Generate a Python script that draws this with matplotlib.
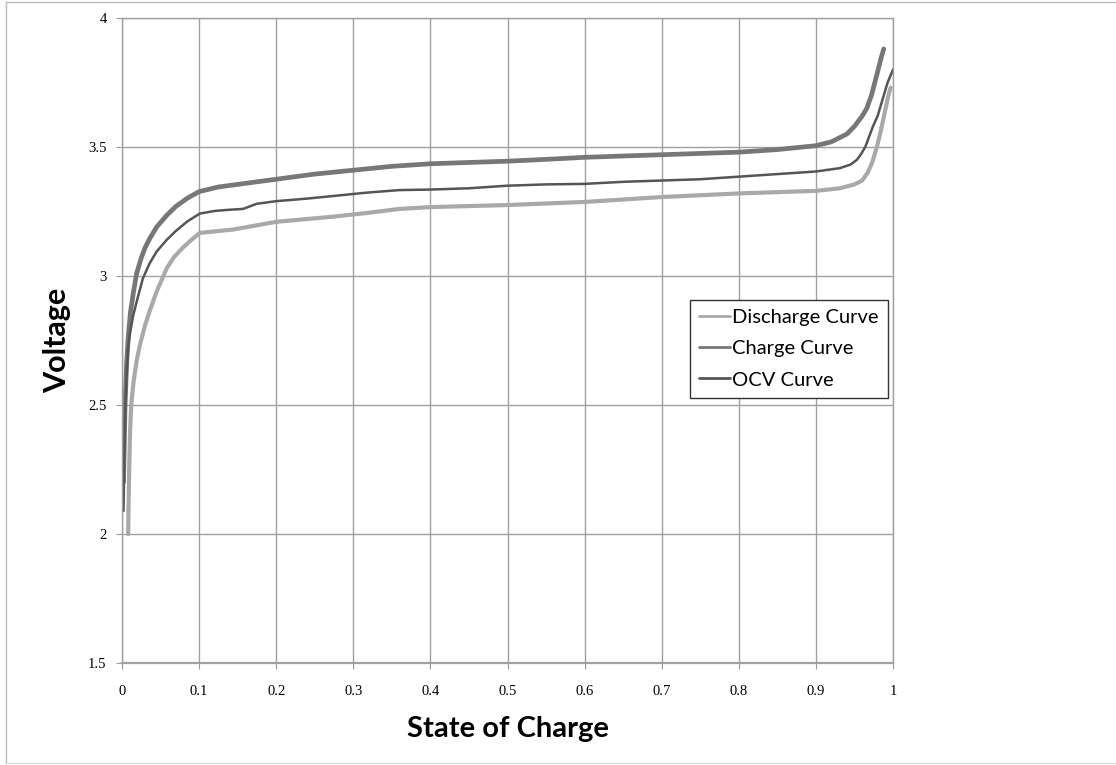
import matplotlib
matplotlib.use("Agg")
import matplotlib.pyplot as plt
from matplotlib.lines import Line2D

# ---- data ----
charge_soc = [0.002, 0.004, 0.006, 0.008, 0.011, 0.015, 0.019, 0.025, 0.030, 0.036,
              0.045, 0.058, 0.070, 0.085, 0.100, 0.125, 0.150, 0.200, 0.250, 0.300,
              0.350, 0.400, 0.450, 0.500, 0.550, 0.600, 0.650, 0.700, 0.750, 0.800,
              0.850, 0.900, 0.920, 0.940, 0.950, 0.960, 0.966, 0.972, 0.979, 0.985, 0.988]
charge_v = [2.20, 2.50, 2.66, 2.76, 2.86, 2.94, 3.01, 3.07, 3.11, 3.145,
            3.19, 3.235, 3.27, 3.302, 3.327, 3.345, 3.355, 3.375, 3.395, 3.41,
            3.425, 3.435, 3.44, 3.445, 3.452, 3.46, 3.465, 3.47, 3.475, 3.48,
            3.49, 3.505, 3.52, 3.55, 3.58, 3.62, 3.65, 3.70, 3.78, 3.85, 3.88]

ocv_soc = [0.002, 0.003, 0.004, 0.006, 0.008, 0.010, 0.014, 0.019, 0.027, 0.036,
           0.045, 0.058, 0.070, 0.085, 0.101, 0.120, 0.136, 0.157, 0.175, 0.200,
           0.240, 0.274, 0.317, 0.360, 0.400, 0.450, 0.500, 0.550, 0.600, 0.650,
           0.700, 0.750, 0.800, 0.850, 0.900, 0.931, 0.945, 0.953, 0.958, 0.964,
           0.969, 0.974, 0.980, 0.987, 0.993, 1.000]
ocv_v = [2.09, 2.30, 2.45, 2.62, 2.72, 2.77, 2.84, 2.90, 2.99, 3.05,
         3.095, 3.14, 3.175, 3.212, 3.242, 3.252, 3.256, 3.26, 3.28, 3.29,
         3.30, 3.31, 3.323, 3.333, 3.335, 3.34, 3.35, 3.355, 3.357, 3.365,
         3.37, 3.375, 3.385, 3.395, 3.405, 3.418, 3.432, 3.45, 3.47, 3.50,
         3.54, 3.58, 3.62, 3.69, 3.75, 3.80]

dis_soc = [0.008, 0.009, 0.0105, 0.012, 0.015, 0.019, 0.023, 0.030, 0.036, 0.045,
           0.053, 0.058, 0.068, 0.079, 0.090, 0.101, 0.144, 0.200, 0.274, 0.317,
           0.360, 0.400, 0.500, 0.600, 0.700, 0.800, 0.900, 0.931, 0.950, 0.960,
           0.967, 0.973, 0.979, 0.984, 0.989, 0.994, 0.997]
dis_v = [2.00, 2.20, 2.40, 2.50, 2.59, 2.67, 2.73, 2.81, 2.865, 2.94,
         2.995, 3.03, 3.075, 3.11, 3.14, 3.167, 3.18, 3.21, 3.23, 3.244,
         3.26, 3.267, 3.275, 3.287, 3.306, 3.32, 3.33, 3.34, 3.355, 3.37,
         3.40, 3.44, 3.50, 3.56, 3.63, 3.70, 3.73]

x_ticks = [0, 0.1, 0.2, 0.3, 0.4, 0.5, 0.6, 0.7, 0.8, 0.9, 1]
x_tick_labels = ["0", "0.1", "0.2", "0.3", "0.4", "0.5", "0.6", "0.7", "0.8", "0.9", "1"]
y_ticks = [1.5, 2, 2.5, 3, 3.5, 4]
y_tick_labels = ["1.5", "2", "2.5", "3", "3.5", "4"]

# ---- figure ----
fig = plt.figure(figsize=(11.16, 7.65), dpi=100)
ax = fig.add_axes([0.1093, 0.1333, 0.6909, 0.8432])

ax.plot(dis_soc, dis_v, color="#a9a9a9", lw=3.0, label="Discharge Curve", solid_capstyle="round")
ax.plot(charge_soc, charge_v, color="#777777", lw=3.4, label="Charge Curve", solid_capstyle="round")
ax.plot(ocv_soc, ocv_v, color="#555555", lw=1.8, label="OCV Curve", solid_capstyle="round")

ax.set_xlim(0, 1)
ax.set_ylim(1.5, 4)
ax.set_xticks(x_ticks)
ax.set_xticklabels(x_tick_labels, fontfamily="Liberation Serif", fontsize=10.5)
ax.set_yticks(y_ticks)
ax.set_yticklabels(y_tick_labels, fontfamily="Liberation Serif", fontsize=10.5)
ax.tick_params(axis="x", direction="out", length=4, color="#999999", pad=12)
ax.tick_params(axis="y", direction="out", length=4, color="#999999", pad=7)

ax.grid(True, color="#a0a0a0", lw=1.0)
ax.set_axisbelow(True)
for s in ax.spines.values():
    s.set_color("#a0a0a0")
    s.set_linewidth(1.0)
ax.spines["bottom"].set_linewidth(1.6)

ax.set_xlabel("State of Charge", fontfamily="Lato", fontweight="bold", fontsize=21, labelpad=13)
ax.set_ylabel("Voltage", fontfamily="Lato", fontweight="bold", fontsize=22, labelpad=12)

leg = ax.legend(loc="upper left", bbox_to_anchor=(0.7367, 0.5628), borderaxespad=0,
                prop={"family": "Lato", "size": 14.5},
                frameon=True, fancybox=False, edgecolor="#333333", framealpha=1,
                handlelength=1.55, handletextpad=0.1, borderpad=0.45, labelspacing=0.7)
leg.get_frame().set_linewidth(1.0)
for h in leg.get_lines():
    h.set_linewidth(2.0)

# figure border
fig.add_artist(Line2D([0.0054, 0.0054], [0.003, 0.9974], transform=fig.transFigure, color="#bbbbbb", lw=1))
fig.add_artist(Line2D([0.0054, 1.0], [0.9974, 0.9974], transform=fig.transFigure, color="#bbbbbb", lw=1))
fig.add_artist(Line2D([0.0054, 1.0], [0.003, 0.003], transform=fig.transFigure, color="#dddddd", lw=1))

fig.savefig("out.png", dpi=100)
